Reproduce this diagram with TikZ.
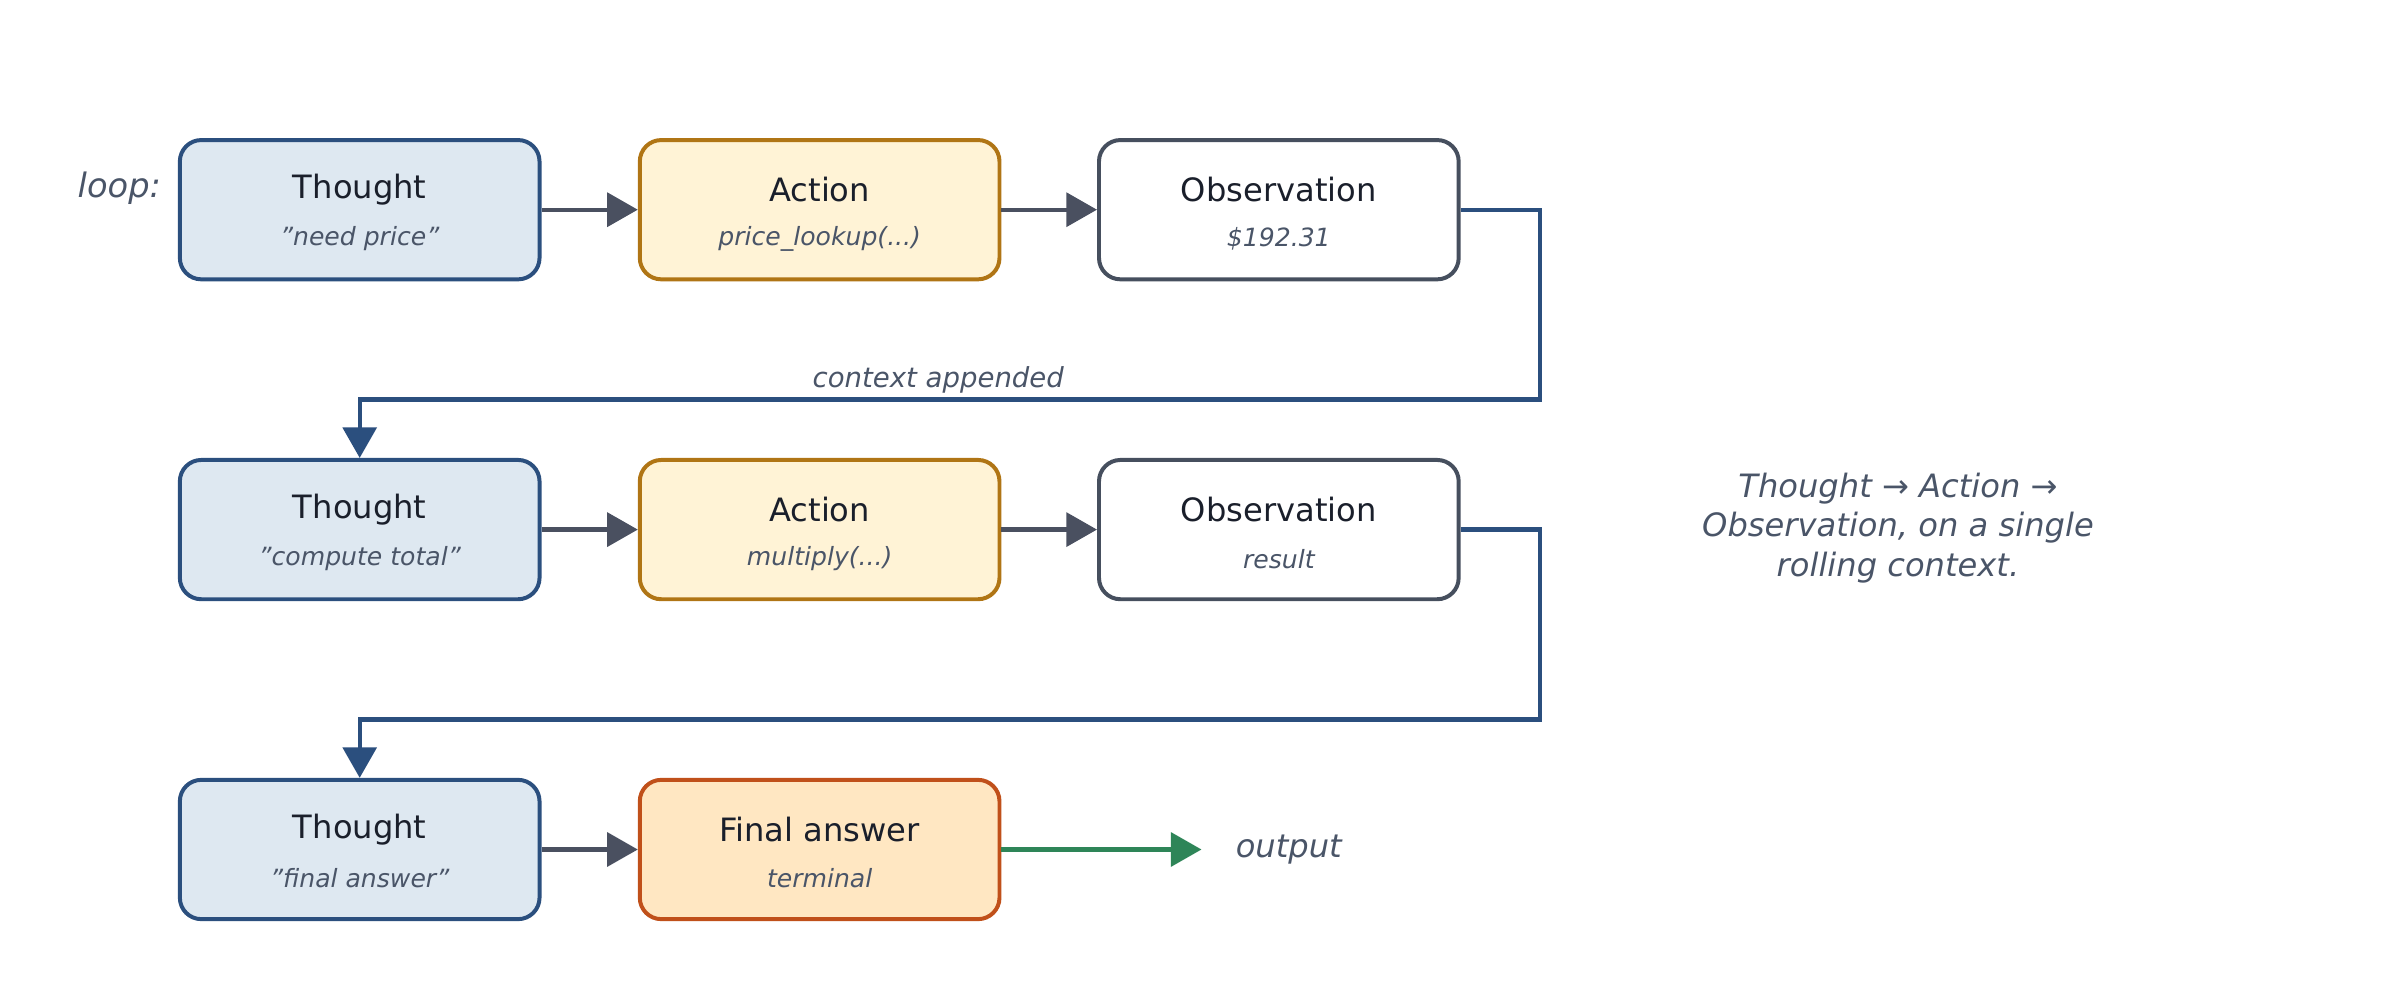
\documentclass[tikz,border=0pt]{standalone}
\usepackage{fontspec}
\setmainfont{DejaVu Sans}
\usetikzlibrary{arrows.meta}
\definecolor{tf}{HTML}{DEE8F1}\definecolor{ts}{HTML}{2B4F7E}
\definecolor{af}{HTML}{FFF3D6}\definecolor{as}{HTML}{B07515}
\definecolor{os}{HTML}{464F5E}
\definecolor{ff}{HTML}{FFE7C2}\definecolor{fs}{HTML}{C0501A}
\definecolor{ga}{HTML}{4A5060}\definecolor{gr}{HTML}{2E8558}
\definecolor{tx}{HTML}{1A1F2B}\definecolor{st}{HTML}{4A5568}
\newcommand\dq{\symbol{34}}
\begin{document}
\begin{tikzpicture}[x=0.5pt,y=-0.5pt,
 box/.style={draw,line width=1.3pt,rounded corners=7pt,minimum width=117.5pt,minimum height=45.5pt,inner sep=0pt},
 th/.style={box,fill=tf,draw=ts},
 ac/.style={box,fill=af,draw=as},
 ob/.style={box,fill=white,draw=os},
 fa/.style={box,fill=ff,draw=fs},
 lab/.style={font=\fontsize{10.5}{13}\selectfont,text=tx},
 sub/.style={font=\fontsize{8.2}{10}\selectfont\itshape,text=st},
 arr/.style={line width=1.4pt,-{Triangle[length=10pt,width=11pt]}},
 note/.style={font=\fontsize{10.5}{13}\selectfont\itshape,text=st}]
\useasboundingbox (0,0) rectangle (1568,653);
\newcommand\bx[6]{%
 \node[#2] (#1) at (#3,#4) {};
 \node[lab] (#1t) at (#3,#4-13) {#5};
 \node[sub] (#1s) at (#3,#4+19) {#6};}
\bx{t1}{th}{235}{137}{Thought}{\dq need price\dq}
\bx{a1}{ac}{535.5}{137}{Action}{price\_lookup(...)}
\bx{o1}{ob}{835.5}{137}{Observation}{\$192.31}
\bx{t2}{th}{235}{346}{Thought}{\dq compute total\dq}
\bx{a2}{ac}{535.5}{346}{Action}{multiply(...)}
\bx{o2}{ob}{835.5}{346}{Observation}{result}
\bx{t3}{th}{235}{555}{Thought}{\dq final answer\dq}
\bx{f3}{fa}{535.5}{555}{Final answer}{terminal}
\node[note,font=\fontsize{11}{13}\selectfont\itshape] (loop) at (78,123) {loop:};
\draw[arr,draw=ga] (t1) -- (a1);
\draw[arr,draw=ga] (a1) -- (o1);
\draw[arr,draw=ga] (t2) -- (a2);
\draw[arr,draw=ga] (a2) -- (o2);
\draw[arr,draw=ga] (t3) -- (f3);
\draw[arr,draw=ts] (o1.east) -- (1006,137) -- (1006,261) -- (235,261) -- (t2.north);
\draw[arr,draw=ts] (o2.east) -- (1006,346) -- (1006,470) -- (235,470) -- (t3.north);
\node[sub,font=\fontsize{9}{11}\selectfont\itshape] (ca) at (613,248) {context appended};
\coordinate (oe) at (785,555);
\draw[arr,draw=gr] (f3.east) -- (oe);
\node[note] (out) at (842,555) {output};
\node[note,align=center] (side) at (1240,345) {Thought → Action →\\Observation, on a single\\rolling context.};
\end{tikzpicture}
\end{document}
